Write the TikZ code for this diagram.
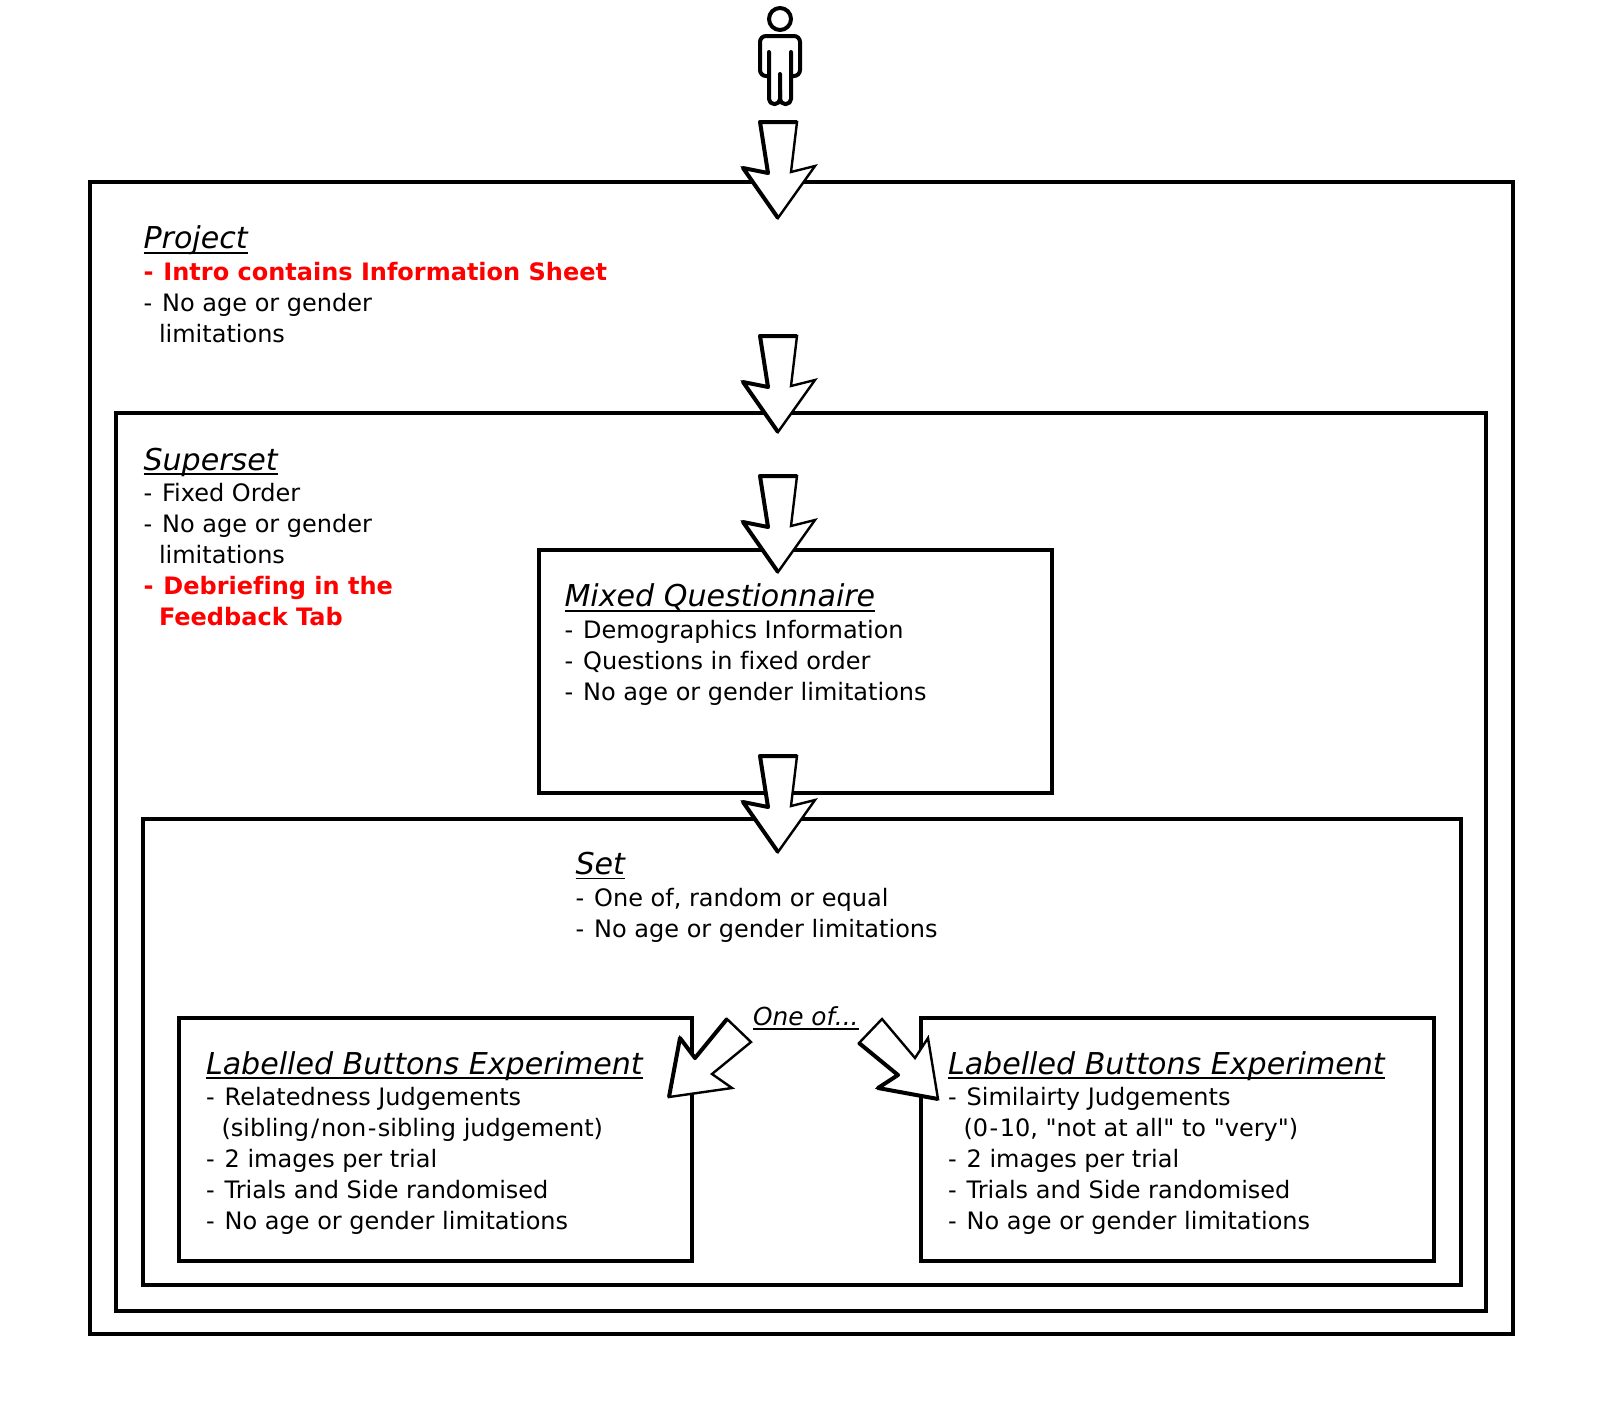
\documentclass[tikz,border=0pt]{standalone}
\usepackage{fontspec}
\setmainfont{DejaVu Sans}[Ligatures={TeXOff,CommonOff}]
\newsavebox{\ttlbox}
\newcommand{\ttl}[1]{\sbox{\ttlbox}{\fontsize{30.1}{30.8}\selectfont\itshape #1}\rlap{\rule[-5pt]{\wd\ttlbox}{1.8pt}}\usebox{\ttlbox}}
\newcommand{\redl}[1]{\textcolor{red}{\bfseries #1}}
\newcommand{\ind}{\hspace*{15.5pt}}
\newcommand{\dd}{-\hspace*{10pt}}
\newcommand{\barrow}[2]{\begin{scope}[shift={(#1,#2)}]
 \draw[arrowbody] (760,122)--(797,122)--(791,172)--(815,166)--(778,218)--(743,168)--(768,173)--cycle;
 \draw[arrowthick] (797,122)--(760,122)--(768,173)--(743,168)--(778,218);
\end{scope}}
\tikzset{
 x=1pt,y=-1pt,
 box/.style={draw=black,line width=3.8pt,fill=white,inner sep=0pt,outer sep=0pt},
 arrowbody/.style={draw=black,line width=2.4pt,fill=white,line join=miter},
 arrowthick/.style={draw=black,line width=4pt,line join=round},
 txt/.style={anchor=base west,inner sep=0pt,outer sep=0pt,align=left,font=\fontsize{24}{30.8}\selectfont},
 person/.style={draw=black,line width=4pt,line cap=round,line join=round},
}
\begin{document}
\begin{tikzpicture}
\useasboundingbox (0,0) rectangle (1600,1400);
\node[box,minimum width=1423pt,minimum height=1152pt] (project) at (801.5,758) {};
\node[box,minimum width=1370pt,minimum height=898pt] (superset) at (801,862) {};
\node[box,minimum width=513pt,minimum height=243pt] (mixed) at (795.5,671.5) {};
\node[box,minimum width=1318pt,minimum height=466pt] (set) at (802,1052) {};
\node[box,minimum width=513pt,minimum height=243pt] (left) at (435.5,1139.5) {};
\node[box,minimum width=513pt,minimum height=243pt] (right) at (1177.5,1139.5) {};
% person
\draw[person] (780,19) circle (11);
\draw[person,rounded corners=5pt] (769,52)--(769,104)--(780,104)--(780,74);
\draw[person,rounded corners=5pt] (791,52)--(791,104)--(780,104)--(780,90);
\draw[person,rounded corners=6pt] (769,76)--(760,76)--(760,36)--(800,36)--(800,76)--(791,76);
% arrows
\barrow{0}{0}
\barrow{0}{214}
\barrow{0}{354}
\barrow{0}{634}
\draw[arrowbody] (727,1019)--(751,1042)--(712,1074)--(732,1088)--(669,1097)--(680,1038)--(695,1058)--cycle;
\draw[arrowthick] (727,1019)--(695,1058)--(680,1038)--(669,1097);
\draw[arrowbody] (882,1019)--(915,1058)--(928,1038)--(938,1099)--(878,1088)--(898,1075)--(859,1043)--cycle;
\draw[arrowthick] (859,1043)--(898,1075)--(878,1088)--(938,1099);
% texts
\node[txt] (tproject) at (143.5,342) {\ttl{Project}\\[1pt] \redl{\dd Intro contains Information Sheet}\\ \dd No age or gender\\ \ind limitations};
\node[txt] (tsuperset) at (143.5,625) {\ttl{Superset}\\[1pt] \dd Fixed Order\\ \dd No age or gender\\ \ind limitations\\ \redl{\dd Debriefing in the}\\ \redl{\ind Feedback Tab}};
\node[txt] (tmixed) at (564.5,700) {\ttl{Mixed Questionnaire}\\[1pt] \dd Demographics Information\\ \dd Questions in fixed order\\ \dd No age or gender limitations};
\node[txt] (tset) at (575.5,937) {\ttl{Set}\\[1pt] \dd One of, random or equal\\ \dd No age or gender limitations};
\node[txt] (tleft) at (206,1229) {\ttl{Labelled Buttons Experiment}\\[1pt] \dd Relatedness Judgements\\ \ind (sibling\hspace{2pt}/\hspace{2pt}non\hspace{1.5pt}-\hspace{1.5pt}sibling judgement)\\ \dd 2 images per trial\\ \dd Trials and Side randomised\\ \dd No age or gender limitations};
\node[txt] (tright) at (948,1229) {\ttl{Labelled Buttons Experiment}\\[1pt] \dd Similairty Judgements\\ \ind (0\hspace{1.5pt}-\hspace{1.5pt}10, "not at all" to "very")\\ \dd 2 images per trial\\ \dd Trials and Side randomised\\ \dd No age or gender limitations};
\node[txt,font=\fontsize{24.8}{28}\selectfont] (oneof) at (753,1025) {\itshape One of...};
\draw[line width=1.2pt] (oneof.base west)++(0,4) -- ++(106,0);
\end{tikzpicture}
\end{document}
